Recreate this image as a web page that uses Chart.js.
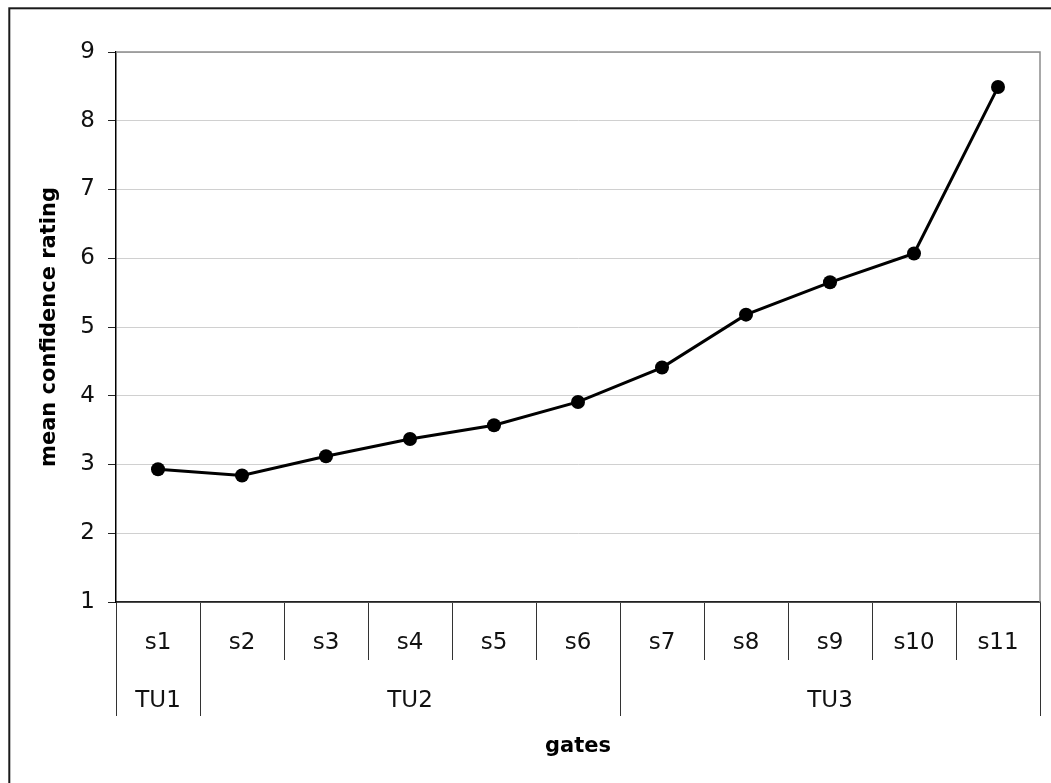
<!DOCTYPE html>
<html><head><meta charset="utf-8">
<script src="https://cdn.jsdelivr.net/npm/chart.js@4.4.1/dist/chart.umd.min.js"></script>
<style>html,body{margin:0;padding:0;background:#fff;overflow:hidden}canvas{display:block}</style>
</head><body>
<canvas id="c" width="1051" height="783"></canvas>
<script>
const categories = ['s1','s2','s3','s4','s5','s6','s7','s8','s9','s10','s11'];
const groupLabels = ['TU1','TU2','TU3'];
const groupSizes = [1,5,5];
const meanRating = [2.93,2.84,3.12,3.37,3.57,3.91,4.41,5.18,5.65,6.07,8.49];
const yMin = 1, yMax = 9, yStep = 1;
const yTitle = 'mean confidence rating';
const xTitle = 'gates';

const FONT = '"DejaVu Sans", sans-serif';

const decor = {
  id: 'decor',
  beforeDraw(chart) {
    const ctx = chart.ctx;
    ctx.save();
    ctx.fillStyle = '#fff';
    ctx.fillRect(0, 0, chart.width, chart.height);
    ctx.restore();
  },
  beforeDatasetsDraw(chart) {
    const {ctx, chartArea: a} = chart;
    ctx.save();
    ctx.strokeStyle = '#8c8c8c';
    ctx.lineWidth = 1.5;
    ctx.beginPath();
    ctx.moveTo(a.left, a.top);
    ctx.lineTo(a.right, a.top);
    ctx.lineTo(a.right, a.bottom);
    ctx.stroke();
    ctx.restore();
  },
  afterDraw(chart) {
    const {ctx, chartArea: a, scales: {x}} = chart;
    ctx.save();
    // outer frame
    ctx.strokeStyle = '#1a1a1a';
    ctx.lineWidth = 2;
    ctx.strokeRect(9.3, 8.3, 1300, 1000);
    // group separators and labels
    const half = (x.getPixelForValue(1) - x.getPixelForValue(0)) / 2;
    const y1 = a.bottom + 58, y2 = a.bottom + 114;
    ctx.strokeStyle = '#333';
    ctx.lineWidth = 1;
    ctx.fillStyle = '#111';
    ctx.font = '23px ' + FONT;
    ctx.textAlign = 'center';
    ctx.textBaseline = 'alphabetic';
    let start = 0;
    const bounds = [x.getPixelForValue(0) - half];
    groupSizes.forEach((n, gi) => {
      const end = start + n - 1;
      const left = x.getPixelForValue(start) - half;
      const right = x.getPixelForValue(end) + half;
      bounds.push(right);
      ctx.fillText(groupLabels[gi], (left + right) / 2, a.bottom + 105);
      start += n;
    });
    ctx.beginPath();
    bounds.forEach(bx => {
      const px = Math.round(bx) + 0.5;
      ctx.moveTo(px, y1 - 1);
      ctx.lineTo(px, y2);
    });
    ctx.stroke();
    ctx.restore();
  }
};

new Chart(document.getElementById('c'), {
  type: 'line',
  data: {
    labels: categories,
    datasets: [{
      data: meanRating,
      borderColor: '#000',
      backgroundColor: '#000',
      borderWidth: 3,
      pointRadius: 7,
      pointHoverRadius: 7,
      pointBorderWidth: 0,
      pointBackgroundColor: '#000',
      tension: 0,
      fill: false
    }]
  },
  options: {
    responsive: false,
    animation: false,
    devicePixelRatio: 1,
    layout: {padding: {left: 0, top: 52, right: 11, bottom: 0}},
    plugins: {legend: {display: false}, tooltip: {enabled: false}},
    scales: {
      x: {
        type: 'category',
        offset: true,
        afterFit(scale) { scale.height = 181; },
        grid: {
          display: true,
          offset: true,
          drawOnChartArea: false,
          drawTicks: true,
          tickLength: 58,
          tickColor: '#333',
          tickWidth: 1
        },
        border: {display: true, color: '#222', width: 1.8},
        ticks: {
          color: '#111',
          font: {family: FONT, size: 23},
          padding: -31,
          maxRotation: 0,
          autoSkip: false
        },
        title: {
          display: true,
          text: xTitle,
          color: '#000',
          font: {family: FONT, size: 21, weight: 'bold'},
          padding: {top: 0, bottom: 24}
        }
      },
      y: {
        min: yMin,
        max: yMax,
        afterFit(scale) { scale.width = 116; },
        ticks: {
          stepSize: yStep,
          color: '#111',
          font: {family: FONT, size: 23},
          padding: 13
        },
        grid: {
          color: '#d0d0d0',
          lineWidth: 1,
          tickColor: '#222',
          tickLength: 8
        },
        border: {display: true, color: '#000', width: 1.5},
        title: {
          display: true,
          text: yTitle,
          color: '#000',
          font: {family: FONT, size: 21, weight: 'bold'},
          padding: {top: 37, bottom: 0}
        }
      }
    }
  },
  plugins: [decor]
});
</script>
</body></html>
